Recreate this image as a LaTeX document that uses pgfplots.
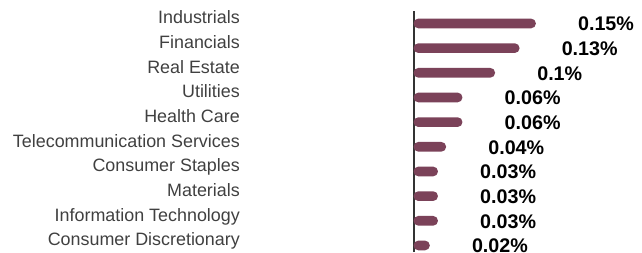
\documentclass[border=0pt]{standalone}
\usepackage{fontspec}
\setmainfont{Liberation Sans}
\usepackage{pgfplots}
\pgfplotsset{compat=1.18}
\definecolor{barcol}{HTML}{7B4259}
\definecolor{labcol}{HTML}{404040}
\definecolor{axcol}{HTML}{333333}
\begin{document}
\begin{tikzpicture}
\useasboundingbox (0,0) rectangle (642pt,252pt);
\begin{axis}[
  at={(413.5pt,0pt)}, anchor=south west,
  scale only axis,
  width=228.5pt, height=240.5pt,
  x coord trafo/.code={\pgfmathparse{#1+0.006}},
  x coord inv trafo/.code={\pgfmathparse{#1-0.006}},
  xmin=0, xmax=0.28,
  ymin=-0.5, ymax=9.25,
  axis x line=none,
  axis y line*=left,
  axis line style={axcol, line width=2pt, -},
  ytick={0,...,9},
  yticklabels={Consumer Discretionary, Information Technology, Materials, Consumer Staples, Telecommunication Services, Health Care, Utilities, Real Estate, Financials, Industrials},
  ytick style={draw=none},
  major tick length=0pt,
  yticklabel style={anchor=base east, inner sep=0pt, xshift=-173.5pt, yshift=-6.3pt,
    font=\fontsize{17.9}{20}\selectfont, text=labcol},
  xbar, bar width=9.7pt, bar shift=-5.8pt,
  point meta=explicit symbolic,
  nodes near coords,
  nodes near coords align={horizontal},
  every node near coord/.append style={anchor=base west, inner sep=0pt, xshift=42pt, yshift=-7.5pt,
    font=\fontsize{19.7}{22}\selectfont\bfseries, text=black},
]
\addplot[fill=barcol, draw=none, rounded corners=4.8pt] coordinates {
  (0.15,9) [0.15\%]
  (0.13,8) [0.13\%]
  (0.10,7) [0.1\%]
  (0.06,6) [0.06\%]
  (0.06,5) [0.06\%]
  (0.04,4) [0.04\%]
  (0.03,3) [0.03\%]
  (0.03,2) [0.03\%]
  (0.03,1) [0.03\%]
  (0.02,0) [0.02\%]
};
\end{axis}
\end{tikzpicture}
\end{document}
